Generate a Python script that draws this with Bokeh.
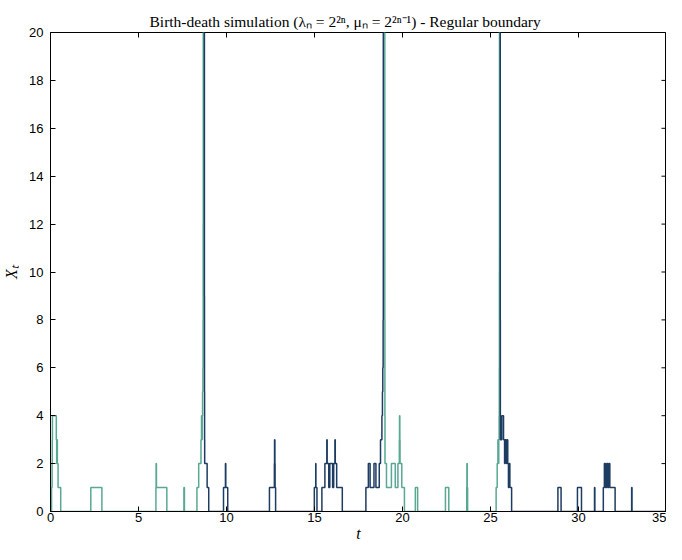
import math
from bokeh.plotting import figure
from bokeh.models import FixedTicker, Range1d
from bokeh.embed import file_html
from bokeh.resources import INLINE

# Segment 1 (teal): start at 0, explodes near t=8.68
seg1_t = [0.00, 0.06, 0.09, 0.10, 0.11, 0.33, 0.35, 0.37, 0.39, 0.43, 0.58, 2.29, 2.92,
          5.99, 6.00, 6.02, 6.61, 7.58, 7.61, 8.32, 8.42, 8.55, 8.58, 8.60, 8.62, 8.64,
          8.66, 8.67, 8.675, 8.68]
seg1_x = [0, 1, 2, 3, 4, 3, 2, 3, 2, 1, 0, 1, 0,
          1, 2, 1, 0, 1, 0, 1, 2, 3, 4, 3, 4, 5,
          6, 8, 12, 30]

# Segment 2 (navy): re-enters from infinity, explodes near t=18.91
seg2_t = [8.74, 8.745, 8.75, 8.755, 8.76, 8.90, 8.99, 9.83, 9.94, 9.96, 10.07,
          12.44, 12.72, 12.73, 12.75, 12.76, 12.79, 14.99, 15.07, 15.08, 15.14,
          15.42, 15.59, 15.70, 15.72, 15.81, 15.87, 16.03, 16.09, 16.16, 16.18, 16.26, 16.58,
          17.92, 18.06, 18.16, 18.38, 18.49, 18.68, 18.75, 18.83, 18.86, 18.88, 18.90, 18.91]
seg2_x = [30, 9, 5, 3, 2, 1, 0, 1, 2, 1, 0,
          1, 2, 3, 2, 1, 0, 1, 2, 1, 0,
          1, 2, 3, 2, 1, 2, 1, 2, 3, 2, 1, 0,
          1, 2, 1, 2, 1, 2, 3, 4, 5, 6, 8, 30]

# Segment 3 (teal): re-enters from infinity, explodes near t=25.51
seg3_t = [18.99, 18.995, 19.0, 19.005, 19.09, 19.37, 19.59, 19.74, 19.82, 19.83, 19.85,
          19.86, 19.96, 20.11, 20.73, 20.86, 22.44, 22.63, 23.65, 23.66, 23.68, 23.70,
          25.32, 25.38, 25.42, 25.45, 25.47, 25.49, 25.50, 25.505, 25.51]
seg3_x = [30, 8, 4, 2, 1, 2, 1, 2, 3, 4, 3,
          2, 1, 0, 1, 0, 1, 0, 1, 2, 1, 0,
          1, 2, 3, 2, 3, 4, 6, 10, 30]

# Segment 4 (navy): re-enters from infinity, runs to t=35
seg4_t = [25.55, 25.555, 25.56, 25.64, 25.74, 25.80, 25.83, 25.90, 25.95, 25.98, 26.02,
          26.05, 26.10, 26.20, 28.83, 29.01, 29.94, 30.17, 30.91, 30.93, 31.41, 31.47,
          31.53, 31.60, 31.66, 31.72, 31.78, 32.08, 33.02, 33.04, 35.0]
seg4_x = [30, 8, 3, 4, 3, 2, 3, 2, 3, 2, 1,
          2, 1, 0, 1, 0, 1, 0, 1, 0, 1, 2,
          1, 2, 1, 2, 1, 0, 1, 0, 0]

x_ticks = [0, 5, 10, 15, 20, 25, 30, 35]
y_ticks = [0, 2, 4, 6, 8, 10, 12, 14, 16, 18, 20]
X_MAX = 35
Y_MAX = 20

TEAL = "#58a893"
NAVY = "#1d3c62"

p = figure(width=666, height=544, output_backend="svg", toolbar_location=None,
           x_range=Range1d(0, X_MAX), y_range=Range1d(0, Y_MAX),
           title="Birth-death simulation (λₙ = 2²ⁿ, μₙ = 2²ⁿ⁻¹) - Regular boundary",
           min_border_left=45, min_border_right=0, min_border_top=32, min_border_bottom=20)

p.title.align = "left"
p.title.offset = 99
p.title.text_font = "Liberation Serif"
p.title.text_font_size = "15.5px"
p.title.text_font_style = "normal"
p.title.text_color = "#000000"
p.title.standoff = 6

p.xgrid.visible = False
p.ygrid.visible = False
p.background_fill_color = "white"
p.border_fill_color = "white"
p.outline_line_color = "black"
p.outline_line_width = 1

for ax, ticks in ((p.xaxis[0], x_ticks), (p.yaxis[0], y_ticks)):
    ax.ticker = FixedTicker(ticks=ticks)
    ax.major_tick_in = 5
    ax.major_tick_out = 0
    ax.minor_tick_in = 0
    ax.minor_tick_out = 0
    ax.major_label_text_font = "Liberation Sans"
    ax.major_label_text_font_size = "13px"
    ax.major_label_text_color = "black"
    ax.axis_line_color = "black"
    ax.major_tick_line_color = "black"
    ax.axis_label_text_font = "Liberation Serif"
    ax.axis_label_text_font_style = "italic"
    ax.axis_label_text_font_size = "16px"
    ax.axis_label_text_color = "black"

p.xaxis.axis_label = "t"
p.yaxis.axis_label = "Xₜ"
p.xaxis.major_label_standoff = 1
p.xaxis.axis_label_standoff = 0
p.xaxis.axis_label_text_line_height = 0.9
p.yaxis.major_label_standoff = 7
p.yaxis.axis_label_standoff = 6

# mirrored inward ticks on the top and right edges (half of each dash is clipped)
p.scatter([X_MAX] * len(y_ticks), y_ticks, marker="dash", size=10,
          line_color="black", line_width=1)
p.scatter(x_ticks, [Y_MAX] * len(x_ticks), marker="dash", size=10, angle=math.pi / 2,
          line_color="black", line_width=1)

for t, x, c in ((seg1_t, seg1_x, TEAL), (seg2_t, seg2_x, NAVY),
                (seg3_t, seg3_x, TEAL), (seg4_t, seg4_x, NAVY)):
    p.step(t, x, mode="after", line_color=c, line_width=1.5)

open("out.html", "w").write(file_html(p, INLINE))
